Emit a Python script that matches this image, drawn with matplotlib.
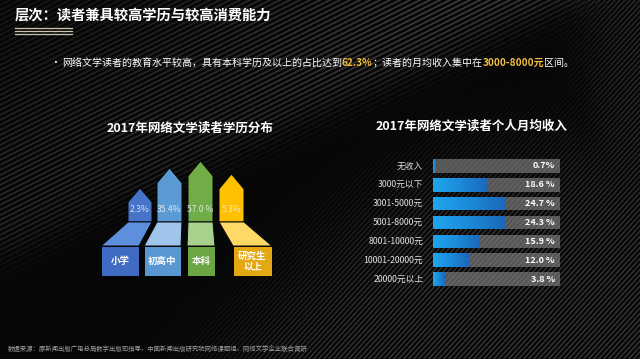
import numpy as np
import matplotlib
matplotlib.use("Agg")
import matplotlib.pyplot as plt
from matplotlib.patches import Polygon, Rectangle
from matplotlib.colors import LinearSegmentedColormap

plt.rcParams['font.family'] = ['Noto Sans CJK SC', 'DejaVu Sans']

# ---------------- data ----------------
title_main = "层次：读者兼具较高学历与较高消费能力"
edu_title = "2017年网络文学读者学历分布"
edu_labels = ["小学", "初高中", "本科", "研究生\n以上"]
edu_values = [2.3, 35.4, 57.0, 5.3]
edu_value_text = ["2.3%", "35.4%", "57.0 %", "5.3%"]

inc_title = "2017年网络文学读者个人月均收入"
inc_labels = ["无收入", "3000元以下", "3001-5000元", "5001-8000元",
              "8001-10000元", "10001-20000元", "20000元以上"]
inc_values = [0.7, 18.6, 24.7, 24.3, 15.9, 12.0, 3.8]
inc_value_text = ["0.7%", "18.6 %", "24.7 %", "24.3 %", "15.9 %", "12.0 %", "3.8 %"]

footer = "数据来源：原新闻出版广电总局数字出版司指导，中国新闻出版研究院网络课题组，网络文学企业联合调研"

W, H = 640, 359
fig = plt.figure(figsize=(6.4, 3.59), dpi=100, facecolor='#060606')
bg = fig.add_axes([0, 0, 1, 1])
bg.axis('off')

# ---- background: black with diagonal stripe bands (decoration) ----
yy, xx = np.mgrid[0:H, 0:W].astype(float) + 0.5
sig = lambda z: 1 / (1 + np.exp(-z))
s1 = yy + 0.5 * xx
st1 = (0.5 + 0.5 * np.cos(2 * np.pi * s1 / 5.0)) ** 2
edge1 = 255 - 0.45 * xx
m1 = sig((edge1 - yy) / 12) * (0.3 + 0.7 * sig((yy - (edge1 - 170)) / 40))
m1 *= 0.6 + 0.4 * sig((xx - 300) / 80)
s2 = yy + 1.1 * xx
st2 = (0.5 + 0.5 * np.cos(2 * np.pi * s2 / 5.5)) ** 2
m2 = sig((xx + 0.9 * yy - 560) / 40) * sig((yy - 150) / 30)
m2 = np.maximum(m2, sig((xx - 590) / 15) * 0.8)
inten = 6 + 62 * m1 * st1 + 50 * m2 * st2
inten = np.clip(inten, 0, 255) / 255.0
img = np.dstack([inten, inten, inten])
bg.imshow(img, extent=[0, W, H, 0], aspect='auto', zorder=0, interpolation='nearest')
bg.set_xlim(0, W)
bg.set_ylim(H, 0)

# ---- main title ----
bg.text(15, 16, title_main, color='white', fontsize=10.3, fontweight='bold',
        va='center', ha='left')
for y_ in (27.5, 30.5, 33.5):
    bg.plot([15, 72], [y_, y_], color='#c9c2ad', lw=0.9)

# ---- bullet line with highlighted numbers ----
bg.text(50, 63, "•", color='white', fontsize=7, va='center', ha='left')
pieces = [("网络文学读者的教育水平较高，具有本科学历及以上的占比达到", 'white', 'normal'),
          ("62.3%", '#f4c040', 'bold'),
          ("；读者的月均收入集中在", 'white', 'normal'),
          ("3000-8000元", '#f4c040', 'bold'),
          ("区间。", 'white', 'normal')]
prev = bg.text(62, 63, pieces[0][0], color=pieces[0][1], fontsize=7.2,
               fontweight=pieces[0][2], va='center', ha='left')
for txt, col, wt in pieces[1:]:
    prev = bg.annotate(txt, xy=(1, 0.5), xycoords=prev, xytext=(0, 0),
                       textcoords='offset points', va='center', ha='left',
                       color=col, fontsize=7.2, fontweight=wt)

# ---------------- left: education arrows ----------------
bg.text(190, 128, edu_title, color='white', fontsize=9, fontweight='bold',
        ha='center', va='center')

stem_l = [128, 157, 188, 219]
stem_r = [152, 182, 213, 244]
tip_y = [188, 168, 161, 174]
shoulder_y = [202, 183, 176, 189]
box_l = [101, 144, 187, 233]
box_r = [139, 181, 215, 272]
slant_top, box_top, box_bot = 222, 246, 276
stem_cols = ['#4674c9', '#5b9bd5', '#70ad47', '#ffc000']
mid_cols = ['#5d8fdc', '#a0c5ea', '#a9d18e', '#ffd966']
box_cols = ['#3f6bc2', '#5897d2', '#6aa743', '#e3a812']

for i in range(len(edu_values)):
    sl, sr = stem_l[i], stem_r[i]
    cx = (sl + sr) / 2
    head = [(sl, slant_top), (sl, shoulder_y[i]), (cx, tip_y[i]),
            (sr, shoulder_y[i]), (sr, slant_top)]
    bg.add_patch(Polygon(head, closed=True, facecolor=stem_cols[i],
                         edgecolor='#050505', lw=0.7, zorder=3))
    mid = [(sl, slant_top), (sr, slant_top), (box_r[i], box_top), (box_l[i], box_top)]
    bg.add_patch(Polygon(mid, closed=True, facecolor=mid_cols[i],
                         edgecolor='#050505', lw=0.7, zorder=3))
    bg.add_patch(Rectangle((box_l[i], box_top), box_r[i] - box_l[i], box_bot - box_top,
                           facecolor=box_cols[i], edgecolor='#050505', lw=0.7, zorder=3))
    bg.text(cx, 209, edu_value_text[i], color='#eef2fa', alpha=0.85, fontsize=6.2,
            ha='center', va='center', zorder=4)
    bg.text((box_l[i] + box_r[i]) / 2, 261, edu_labels[i], color='white', fontsize=6.8,
            fontweight='bold', ha='center', va='center', zorder=4, linespacing=1.1)

# ---------------- right: income bars ----------------
bg.text(472, 126, inc_title, color='white', fontsize=9, fontweight='bold',
        ha='center', va='center')

row_top, row_bot = 166, 279
n = len(inc_values)
step = (row_bot - row_top) / (n - 1)
ax_top = row_top - step / 2
ax_bot = row_bot + step / 2
xl, xr = 433, 560
ax = fig.add_axes([xl / W, 1 - ax_bot / H, (xr - xl) / W, (ax_bot - ax_top) / H])
ax.axis('off')
ax.patch.set_alpha(0)

ypos = np.arange(n)
bh = 0.72
ax.barh(ypos, [43] * n, height=bh, color='#8a8a8a', alpha=0.6, zorder=1)
cmap = LinearSegmentedColormap.from_list('b', ['#1fa6ee', '#1c8ada', '#1b67b8'])
grad = np.linspace(0, 1, 256).reshape(1, -1)
bars = ax.barh(ypos, inc_values, height=bh, color='none', zorder=2)
for b, v in zip(bars, inc_values):
    y0 = b.get_y()
    im = ax.imshow(grad, extent=[0, v, y0 + bh, y0], aspect='auto', cmap=cmap,
                   zorder=2, interpolation='bicubic')
    im.set_clip_path(b)
ax.set_xlim(0, 43)
ax.set_ylim(n - 0.5, -0.5)
for i, t in enumerate(inc_value_text):
    ax.text(41.3, i, t, color='white', fontsize=6.5, fontweight='bold',
            ha='right', va='center', zorder=3)
    ax.text(-3.3, i, inc_labels[i], color='#e0e0e0', fontsize=6.3,
            ha='right', va='center', zorder=3)

# ---- footer ----
bg.text(8, 349, footer, color='#a0a0a0', fontsize=4.6, ha='left', va='center',
        style='italic')

fig.savefig('out.png', dpi=100, facecolor=fig.get_facecolor())
